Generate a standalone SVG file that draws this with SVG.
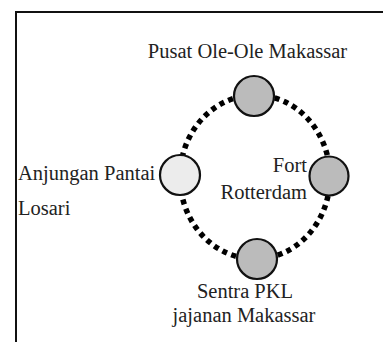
<svg xmlns="http://www.w3.org/2000/svg" width="383" height="342" viewBox="0 0 383 342">
<style>
text{font-family:'Liberation Serif','Times New Roman','DejaVu Serif',serif;font-size:20.5px;fill:#222}
.n{stroke:#111;stroke-width:2.2}
.g{fill:#bbbbbb}
.w{fill:#ececec}
</style>
<rect width="383" height="342" fill="#fff"/>
<g id="frame" fill="none" stroke="#111" stroke-width="2">
<path d="M16 342 V12 H383"/>
</g>
<g id="connectors">
<ellipse cx="255" cy="177" rx="75" ry="82" fill="none" stroke="#000" stroke-width="5.5" stroke-dasharray="5 4.5"/>
</g>
<g id="pusat">
<circle class="n g" cx="254" cy="96" r="20"/>
<text x="247.5" y="58" text-anchor="middle" font-family="Liberation Serif, serif">Pusat Ole-Ole Makassar</text>
</g>
<g id="anjungan">
<circle class="n w" cx="180" cy="175" r="20"/>
<text x="18" y="180" font-family="Liberation Serif, serif">Anjungan Pantai</text>
<text x="18" y="215" font-family="Liberation Serif, serif">Losari</text>
</g>
<g id="fort">
<circle class="n g" cx="329" cy="176" r="19.5"/>
<text x="307" y="172" text-anchor="end" font-family="Liberation Serif, serif">Fort</text>
<text x="307" y="199" text-anchor="end" font-family="Liberation Serif, serif">Rotterdam</text>
</g>
<g id="sentra">
<circle class="n g" cx="257" cy="259" r="20"/>
<text x="245" y="298" text-anchor="middle" font-family="Liberation Serif, serif">Sentra PKL</text>
<text x="244" y="322" text-anchor="middle" font-family="Liberation Serif, serif">jajanan Makassar</text>
</g>
</svg>
